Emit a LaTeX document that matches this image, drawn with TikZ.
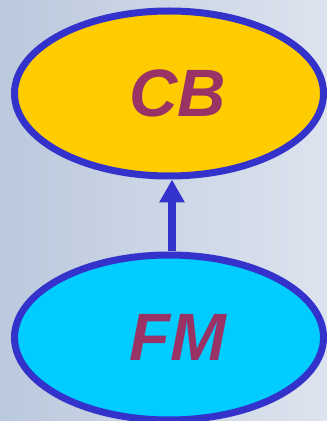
\documentclass[tikz,border=0pt]{standalone}
\usepackage{fontspec}
\setsansfont{Liberation Sans}
\usepackage{xcolor}
\definecolor{colorBorder}{HTML}{3333CC}
\definecolor{colorLabel}{HTML}{993366}
\definecolor{colorCB}{HTML}{FFCC00}
\definecolor{colorFM}{HTML}{00CCFF}
\definecolor{colorBgLeft}{HTML}{BBC9DD}
\definecolor{colorBgRight}{HTML}{DDE3EE}
\usetikzlibrary{arrows.meta, positioning, shapes.geometric}
\tikzset{
  blob/.style={ellipse, draw=colorBorder, line width=7pt, minimum width=309pt, minimum height=165pt,
    font=\sffamily\bfseries\itshape\fontsize{67}{67}\selectfont, text=colorLabel},
  dep/.style={colorBorder, line width=8pt, -{Triangle[width=24pt,length=23pt]}}
}

\begin{document}
\begin{tikzpicture}[x=1pt, y=1pt, node distance=72pt]
\shade[left color=colorBgLeft, right color=colorBgRight] (0,0) rectangle (327,421);
\useasboundingbox (0,0) rectangle (327,421);
\node[blob, fill=colorCB] (cb) at (169,327.5) {\hspace*{18pt}CB};
\node[blob, fill=colorFM, below=of cb] (fm) {\hspace*{18pt}FM};
\draw[dep] ([xshift=3pt]fm.north) -- ([xshift=3pt]cb.south);
\end{tikzpicture}
\end{document}
